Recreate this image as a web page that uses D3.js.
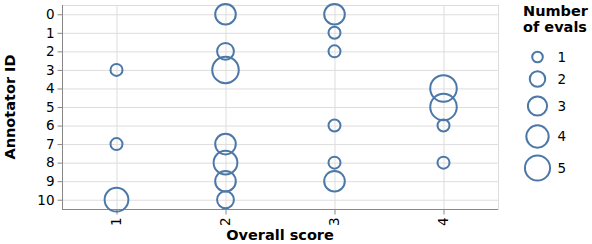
<!DOCTYPE html>
<html>
<head>
<meta charset="utf-8">
<script src="https://cdn.jsdelivr.net/npm/d3@7"></script>
<style>
  html, body { margin: 0; padding: 0; background: #fff; }
  svg { display: block; font-family: "DejaVu Sans", sans-serif; }
</style>
</head>
<body>
<svg id="chart" width="592" height="244"></svg>
<script>
// ---- data ----
const scoreCategories = [1, 2, 3, 4];
const annotatorCategories = [0, 1, 2, 3, 4, 5, 6, 7, 8, 9, 10];
const pointScores     = [1, 1, 1,  2, 2, 2, 2, 2, 2, 2,  3, 3, 3, 3, 3, 3,  4, 4, 4, 4];
const pointAnnotators = [3, 7, 10, 0, 2, 3, 7, 8, 9, 10, 0, 1, 2, 6, 8, 9,  4, 5, 6, 8];
const pointCounts     = [1, 1, 4,  3, 2, 5, 3, 4, 3, 2,  3, 1, 1, 1, 1, 3,  5, 5, 1, 1];
const legendValues = [1, 2, 3, 4, 5];
const xTitle = "Overall score";
const yTitle = "Annotator ID";
const legendTitleLines = ["Number", "of evals"];

// ---- layout ----
const color = "#4c78a8";
const plot = { left: 62, right: 498, top: 5, bottom: 209 };
const tickFont = "13.5px";
const titleFont = "14.5px";
const svg = d3.select("#chart");

const x = d3.scalePoint().domain(scoreCategories).range([plot.left, plot.right]).padding(0.5);
const y = d3.scalePoint().domain(annotatorCategories).range([plot.top, plot.bottom]).padding(0.5);
const r2 = d3.scaleLinear().domain([1, 5]).range([36, 176]);
const radius = n => Math.sqrt(r2(n));

// grid
const grid = svg.append("g");
grid.selectAll("line.h").data(annotatorCategories).join("line")
  .attr("x1", plot.left).attr("x2", plot.right)
  .attr("y1", d => y(d) + 0.5).attr("y2", d => y(d) + 0.5)
  .attr("stroke", "#ddd").attr("stroke-width", 1);
grid.selectAll("line.v").data(scoreCategories).join("line")
  .attr("y1", plot.top).attr("y2", plot.bottom)
  .attr("x1", d => x(d) + 0.5).attr("x2", d => x(d) + 0.5)
  .attr("stroke", "#ddd").attr("stroke-width", 1);
// view border
svg.append("rect")
  .attr("x", plot.left + 0.5).attr("y", plot.top + 0.5)
  .attr("width", plot.right - plot.left).attr("height", plot.bottom - plot.top)
  .attr("fill", "none").attr("stroke", "#ddd");

// axes
const xAxis = svg.append("g").attr("transform", `translate(0,${plot.bottom + 0.5})`)
  .call(d3.axisBottom(x).tickSize(5).tickPadding(3).tickSizeOuter(0));
xAxis.selectAll("text")
  .attr("transform", "rotate(-90)")
  .attr("text-anchor", "end")
  .attr("dy", "0.32em")
  .attr("x", -8).attr("y", 0);
const yAxis = svg.append("g").attr("transform", `translate(${plot.left + 0.5},0)`)
  .call(d3.axisLeft(y).tickSize(5).tickPadding(3).tickSizeOuter(0));
[xAxis, yAxis].forEach(a => {
  a.select(".domain").attr("stroke", "#888");
  a.selectAll(".tick line").attr("stroke", "#888");
  a.selectAll("text").attr("fill", "#000").style("font-size", tickFont).style("font-family", "DejaVu Sans, sans-serif");
});
xAxis.select(".domain").attr("d", `M${plot.left},0H${plot.right}`);
yAxis.select(".domain").attr("d", `M0,${plot.top}V${plot.bottom}`);

// titles
svg.append("text").attr("x", (plot.left + plot.right) / 2).attr("y", 240)
  .attr("text-anchor", "middle").style("font-size", titleFont).style("font-weight", "bold")
  .text(xTitle);
svg.append("text").attr("transform", `translate(14.5,${(plot.top + plot.bottom) / 2}) rotate(-90)`)
  .attr("text-anchor", "middle").style("font-size", titleFont).style("font-weight", "bold")
  .text(yTitle);

// points
const points = pointScores.map((s, i) => ({ s, a: pointAnnotators[i], n: pointCounts[i] }));
svg.append("g").selectAll("circle").data(points).join("circle")
  .attr("cx", d => x(d.s)).attr("cy", d => y(d.a))
  .attr("r", d => radius(d.n))
  .attr("fill", "none").attr("stroke", color).attr("stroke-width", 2);

// legend
const lg = svg.append("g");
lg.selectAll("text.t").data(legendTitleLines).join("text")
  .attr("x", 523).attr("y", (d, i) => 16 + i * 16)
  .style("font-size", titleFont).style("font-weight", "bold")
  .text(d => d);
const legendY = [57, 79, 106, 136.5, 168];
const items = lg.selectAll("g.item").data(legendValues).join("g")
  .attr("transform", (d, i) => `translate(537.5,${legendY[i]})`);
items.append("circle").attr("r", d => radius(d) - 0.7)
  .attr("fill", "none").attr("stroke", color).attr("stroke-width", 2);
items.append("text").attr("x", 20).attr("dy", "0.35em")
  .style("font-size", tickFont).text(d => d);
</script>
</body>
</html>
